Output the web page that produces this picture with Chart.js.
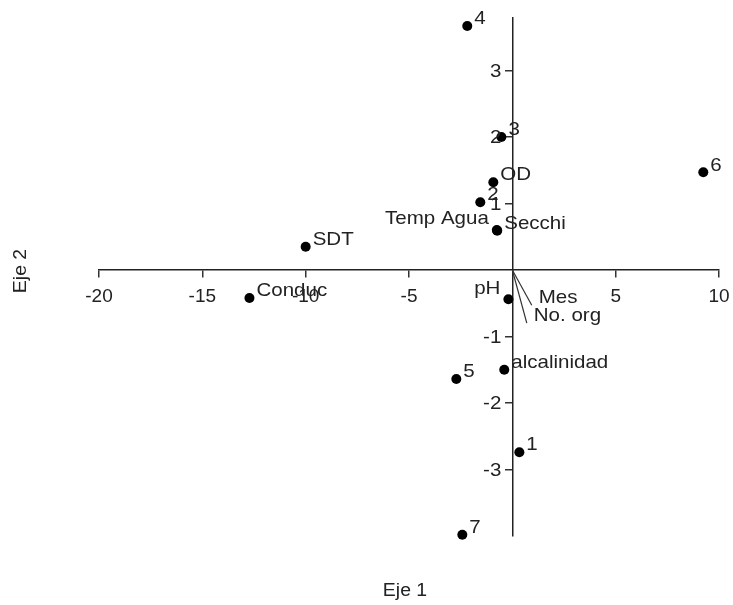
<!DOCTYPE html>
<html>
<head>
<meta charset="utf-8">
<script src="https://cdn.jsdelivr.net/npm/chart.js@4"></script>
<style>
  html, body { margin: 0; padding: 0; background: #fff; }
  #wrap { width: 733px; height: 605px; }
</style>
</head>
<body>
<div id="wrap"><canvas id="biplot"></canvas></div>
<script>
// sites (numbered dots)
const siteLabels = ['1', '2', '3', '4', '5', '6', '7']
const siteX = [0.34, -1.55, -0.53, -2.18, -2.71, 9.24, -2.42]
const siteY = [-2.74, 1.02, 2.0, 3.67, -1.64, 1.47, -3.98]

// variables drawn as dots
const varLabels = ['OD', 'Secchi', 'Temp Agua', 'SDT', 'Conduc', 'pH', 'alcalinidad']
const varX = [-0.92, -0.73, -0.75, -10.0, -12.72, -0.19, -0.39]
const varY = [1.32, 0.59, 0.6, 0.35, -0.42, -0.44, -1.5]

// variables drawn as lines from the origin
const vecLabels = ['Mes', 'No. org']
const vecX = [0.94, 0.7]
const vecY = [-0.53, -0.8]

const xTickValues = [-20, -15, -10, -5, 5, 10]
const yTickValues = [-3, -2, -1, 1, 2, 3]

const leftLabels = ['Temp Agua', 'pH']
const FONT = '19px "Liberation Sans", Arial, sans-serif'
const INK = '#222'
const STRETCH = 1.08

function toPoints(xs, ys) {
  return xs.map((x, i) => ({ x: x, y: ys[i] }))
}

const datasets = [
  {
    label: 'sites',
    data: toPoints(siteX, siteY),
    names: siteLabels,
    pointRadius: 5,
    backgroundColor: '#000',
    borderWidth: 0,
    clip: false,
  },
  {
    label: 'vars',
    data: toPoints(varX, varY),
    names: varLabels,
    pointRadius: 5,
    backgroundColor: '#000',
    borderWidth: 0,
    clip: false,
  },
]
vecLabels.forEach(function (name, i) {
  datasets.push({
    label: name,
    data: [{ x: 0, y: 0 }, { x: vecX[i], y: vecY[i] }],
    names: ['', name],
    showLine: true,
    borderColor: '#333',
    borderWidth: 1.2,
    pointRadius: 0,
  })
})

// text drawn a little wider, like the original
function wideText(ctx, text, x, y, align) {
  ctx.save()
  ctx.translate(x, y)
  ctx.scale(STRETCH, 1)
  ctx.textAlign = align
  ctx.fillText(text, 0, 0)
  ctx.restore()
}

// point labels, y tick labels and axis titles
const labelPlugin = {
  id: 'labelPlugin',
  afterDraw(chart) {
    const ctx = chart.ctx
    ctx.save()
    ctx.font = FONT
    ctx.fillStyle = INK
    ctx.textBaseline = 'middle'
    chart.data.datasets.forEach(function (ds, di) {
      const meta = chart.getDatasetMeta(di)
      meta.data.forEach(function (pt, i) {
        const name = ds.names[i]
        if (!name) return
        if (leftLabels.includes(name)) {
          wideText(ctx, name, pt.x - 8, pt.y - 11, 'right')
        } else {
          wideText(ctx, name, pt.x + 7, pt.y - 7, 'left')
        }
      })
    })

    const xs = chart.scales.x
    const ys = chart.scales.y
    const axisX = xs.getPixelForValue(0)
    yTickValues.forEach(function (v) {
      wideText(ctx, String(v), axisX - 11, ys.getPixelForValue(v) + 1, 'right')
    })

    const area = chart.chartArea
    ctx.font = '18px "Liberation Sans", Arial, sans-serif'
    wideText(ctx, 'Eje 1', (area.left + area.right) / 2 - 4, 591, 'center')
    ctx.translate(21, 271)
    ctx.rotate(-Math.PI / 2)
    wideText(ctx, 'Eje 2', 0, 0, 'center')
    ctx.restore()
  },
}

const tickFont = { family: '"Liberation Sans", Arial, sans-serif', size: 19 }

new Chart(document.getElementById('biplot'), {
  type: 'scatter',
  data: { datasets: datasets },
  options: {
    responsive: true,
    maintainAspectRatio: false,
    animation: false,
    layout: { padding: { left: 99, right: 14, top: 18, bottom: 69 } },
    plugins: { legend: { display: false }, tooltip: { enabled: false } },
    scales: {
      x: {
        type: 'linear',
        min: -20,
        max: 10,
        position: { y: 0 },
        afterBuildTicks(scale) {
          scale.ticks = xTickValues.map((v) => ({ value: v }))
        },
        afterFit(scale) {
          scale.paddingLeft = 0
          scale.paddingRight = 0
        },
        grid: { drawOnChartArea: false, drawTicks: true, tickLength: 7, color: '#333', lineWidth: 1.5 },
        border: { color: '#222', width: 1.5 },
        ticks: { color: INK, font: tickFont, padding: 8, maxRotation: 0 },
      },
      y: {
        type: 'linear',
        min: -4,
        max: 3.79,
        position: { x: 0 },
        afterBuildTicks(scale) {
          scale.ticks = yTickValues.map((v) => ({ value: v }))
        },
        afterFit(scale) {
          scale.paddingTop = 0
          scale.paddingBottom = 0
        },
        grid: { drawOnChartArea: false, drawTicks: true, tickLength: 7, color: '#333', lineWidth: 1.5 },
        border: { color: '#222', width: 1.5 },
        ticks: { font: tickFont, callback: () => '' },
      },
    },
  },
  plugins: [labelPlugin],
})
</script>
</body>
</html>
